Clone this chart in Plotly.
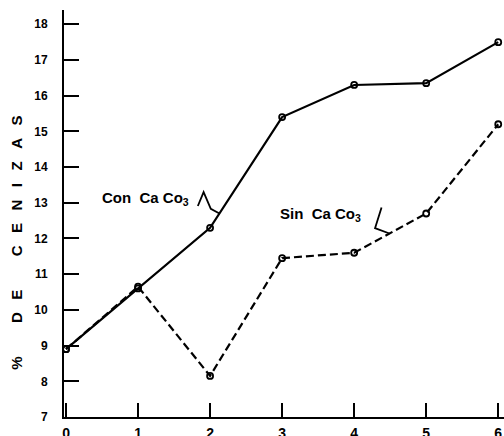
import plotly.graph_objects as go

# Data
x_vals = [0, 1, 2, 3, 4, 5, 6]
con_caco3 = [8.9, 10.6, 12.3, 15.4, 16.3, 16.35, 17.5]
sin_caco3 = [8.9, 10.65, 8.15, 11.45, 11.6, 12.7, 15.2]
y_ticks = [7, 8, 9, 10, 11, 12, 13, 14, 15, 16, 17, 18]
x_ticks = [0, 1, 2, 3, 4, 5, 6]

FONT = "Liberation Sans, Arial, sans-serif"
marker = dict(symbol="circle-open", size=6, color="black", line=dict(width=1.8, color="black"))

fig = go.Figure()
fig.add_trace(go.Scatter(x=x_vals, y=con_caco3, mode="lines+markers",
                         line=dict(color="black", width=2.2), marker=marker,
                         name="Con CaCo3", showlegend=False, cliponaxis=False))
fig.add_trace(go.Scatter(x=x_vals, y=sin_caco3, mode="lines+markers",
                         line=dict(color="black", width=2.2, dash="8px,4px"), marker=marker,
                         name="Sin CaCo3", showlegend=False, cliponaxis=False))

# Label leader squiggles
fig.add_shape(type="path", xref="x", yref="y",
              path="M 1.83 12.91 L 1.91 13.30 L 2.01 12.83 L 2.13 12.70",
              line=dict(color="black", width=1.8))
fig.add_shape(type="path", xref="x", yref="y",
              path="M 4.38 12.87 L 4.29 12.29 L 4.49 12.14",
              line=dict(color="black", width=1.8))

fig.add_annotation(x=1.11, y=13.12, xref="x", yref="y", showarrow=False,
                   text="<b>Con\u00a0\u00a0Ca\u00a0Co<sub>3</sub></b>",
                   font=dict(family=FONT, size=15, color="black"))
fig.add_annotation(x=3.53, y=12.66, xref="x", yref="y", showarrow=False,
                   text="<b>Sin\u00a0\u00a0Ca\u00a0Co<sub>3</sub></b>",
                   font=dict(family=FONT, size=15, color="black"))

sp3 = "\u00a0" * 3
sp8 = "\u00a0" * 8
title = "%" + sp8 + "D" + sp3 + "E" + sp8 + sp3.join(list("CENIZAS"))
fig.add_annotation(x=-0.107, y=0.428, xref="paper", yref="paper", showarrow=False,
                   xanchor="center", yanchor="middle",
                   text="<b>" + title + "</b>", textangle=-90,
                   font=dict(family=FONT, size=15, color="black"))

fig.update_xaxes(range=[-0.028, 6.08], tickvals=x_ticks, ticks="inside", ticklen=14,
                 tickwidth=1.5, tickcolor="black", showline=True, linecolor="black",
                 linewidth=1.8, showgrid=False, zeroline=False, ticklabelstandoff=2,
                 automargin=False,
                 tickfont=dict(family=FONT, size=14, color="black", weight="bold"))
fig.update_yaxes(range=[7, 18.4], tickvals=y_ticks, ticks="inside", ticklen=15,
                 tickwidth=1.5, tickcolor="black", showline=True, linecolor="black",
                 linewidth=1.8, showgrid=False, zeroline=False, ticklabelstandoff=12,
                 automargin=False,
                 tickfont=dict(family=FONT, size=12, color="black", weight="bold"))

fig.update_layout(width=504, height=436, margin=dict(l=64, r=0, t=10, b=19),
                  plot_bgcolor="white", paper_bgcolor="white")
fig.write_html("out.html", config={"displayModeBar": False},
               post_script="document.body.style.margin='0';document.body.style.overflow='hidden';")
